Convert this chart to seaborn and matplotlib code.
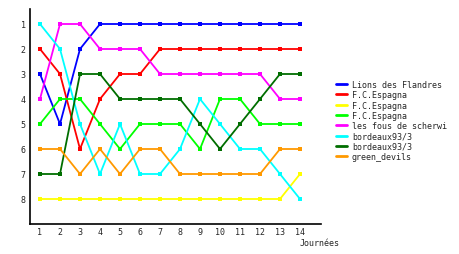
import matplotlib
matplotlib.use("Agg")
import matplotlib.pyplot as plt
import seaborn as sns
import pandas as pd

journees = list(range(1, 15))
names = ["Lions des Flandres", "F.C.Espagna", "F.C.Espagna", "F.C.Espagna",
         "les fous de scherwi", "bordeaux93/3", "bordeaux93/3", "green_devils"]
colors = ["#0000FF", "#FF0000", "#FFFF00", "#00FF00",
          "#FF00FF", "#00FFFF", "#006E00", "#FF9900"]
lions = [3, 5, 2, 1, 1, 1, 1, 1, 1, 1, 1, 1, 1, 1]
espagna_red = [2, 3, 6, 4, 3, 3, 2, 2, 2, 2, 2, 2, 2, 2]
espagna_yellow = [8, 8, 8, 8, 8, 8, 8, 8, 8, 8, 8, 8, 8, 7]
espagna_lime = [5, 4, 4, 5, 6, 5, 5, 5, 6, 4, 4, 5, 5, 5]
fous = [4, 1, 1, 2, 2, 2, 3, 3, 3, 3, 3, 3, 4, 4]
bordeaux_cyan = [1, 2, 5, 7, 5, 7, 7, 6, 4, 5, 6, 6, 7, 8]
bordeaux_dark = [7, 7, 3, 3, 4, 4, 4, 4, 5, 6, 5, 4, 3, 3]
green_devils = [6, 6, 7, 6, 7, 6, 6, 7, 7, 7, 7, 7, 6, 6]
series = [lions, espagna_red, espagna_yellow, espagna_lime,
          fous, bordeaux_cyan, bordeaux_dark, green_devils]
yticks = [1, 2, 3, 4, 5, 6, 7, 8]

sns.set_style("white")
plt.rcParams['font.family'] = ['DejaVu Sans Mono']

fig = plt.figure(figsize=(4.6, 2.55), dpi=100)
ax = fig.add_axes([30/460, 1 - 225/255, (321-30)/460, (225-10)/255])

for name, vals, col in zip(names, series, colors):
    df = pd.DataFrame({"j": journees, "rank": vals})
    sns.lineplot(data=df, x="j", y="rank", color=col, label=name, ax=ax,
                 marker="s", markersize=2.2, markeredgewidth=0, linewidth=1.3)

ax.set_xlim(0.5, 15.05)
ax.set_ylim(9, 0.4)
ax.set_xticks(journees)
ax.set_yticks(yticks)
ax.tick_params(axis='y', length=0, labelsize=6, pad=3)
ax.tick_params(axis='x', length=0, labelsize=6, pad=2)
ax.set_xlabel("")
ax.set_ylabel("")
for s in ["top", "right"]:
    ax.spines[s].set_visible(False)
for s in ["left", "bottom"]:
    ax.spines[s].set_color("black")
    ax.spines[s].set_linewidth(1.2)
ax.text(14, -0.065, "Journées", transform=ax.get_xaxis_transform(),
        ha="left", va="top", fontsize=6)

leg = ax.legend(loc="upper left", bbox_to_anchor=(336/460, 1 - 81/255),
                bbox_transform=fig.transFigure, frameon=False, fontsize=6,
                handlelength=1.3, handletextpad=0.6, labelspacing=0.16,
                borderaxespad=0, borderpad=0)
for line in leg.get_lines():
    line.set_marker("")
    line.set_linewidth(2)

fig.savefig("out.png", dpi=100)
